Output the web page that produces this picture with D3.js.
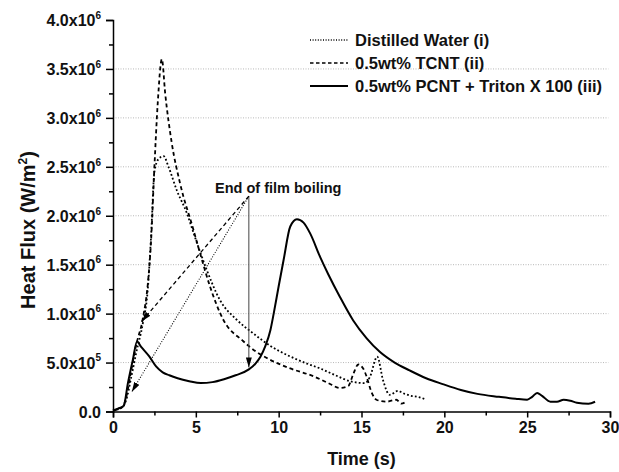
<!DOCTYPE html>
<html>
<head>
<meta charset="utf-8">
<script src="https://cdn.jsdelivr.net/npm/d3@7"></script>
<style>
  html, body { margin: 0; padding: 0; background: #fff; }
  svg { display: block; font-family: "Liberation Sans", Arial, sans-serif; }
</style>
</head>
<body>
<svg id="chart" width="619" height="472"></svg>
<script>
// ---------- data ----------
const seriesNames = ["Distilled Water (i)", "0.5wt% TCNT (ii)", "0.5wt% PCNT + Triton X 100 (iii)"];

const timeWater = [0, 0.6, 0.8, 1.1, 1.4, 1.8, 2.1, 2.3, 2.5, 2.75, 3.05, 3.35, 3.85, 4.45, 4.95, 5.65, 6.45, 7.45, 8.45, 9.5, 10.6, 11.7, 12.5, 13.3, 14.3, 15.2, 15.5, 15.95, 16.3, 16.7, 17.2, 17.6, 18.0, 18.4, 18.85];
const fluxWater = [0.01, 0.05, 0.12, 0.35, 0.6, 0.9, 1.25, 1.8, 2.45, 2.58, 2.61, 2.5, 2.26, 2.03, 1.78, 1.45, 1.14, 0.94, 0.80, 0.67, 0.57, 0.49, 0.44, 0.38, 0.31, 0.29, 0.35, 0.56, 0.32, 0.17, 0.21, 0.18, 0.16, 0.15, 0.125];

const timeTCNT = [0, 0.6, 0.8, 1.1, 1.4, 1.8, 2.1, 2.3, 2.5, 2.7, 2.95, 3.15, 3.55, 4.05, 4.85, 5.25, 5.85, 6.65, 7.85, 8.65, 9.3, 10.7, 12.1, 13.0, 13.7, 14.2, 14.5, 14.8, 15.1, 15.3, 15.6, 15.9, 16.5, 17.1, 17.4, 17.7];
const fluxTCNT = [0.01, 0.05, 0.15, 0.42, 0.68, 0.95, 1.3, 1.75, 2.5, 3.15, 3.60, 3.25, 2.74, 2.33, 1.86, 1.62, 1.28, 0.94, 0.72, 0.61, 0.545, 0.44, 0.36, 0.29, 0.24, 0.26, 0.38, 0.48, 0.44, 0.36, 0.2, 0.12, 0.10, 0.12, 0.08, 0.10];

const timePCNT = [0, 0.3, 0.65, 0.9, 1.2, 1.45, 1.7, 2.2, 2.6, 3.0, 3.4, 3.9, 4.6, 5.3, 6.0, 6.7, 7.4, 8.2, 8.6, 8.9, 9.2, 9.5, 9.7, 10.0, 10.3, 10.7, 11.1, 11.5, 11.9, 12.5, 13.0, 13.7, 14.5, 15.3, 16.1, 17.0, 17.9, 18.9, 19.9, 21.0, 22.0, 23.3, 24.3, 25.0, 25.3, 25.6, 25.9, 26.4, 26.8, 27.2, 27.6, 28.0, 28.7, 29.1];
const fluxPCNT = [0.01, 0.03, 0.06, 0.29, 0.53, 0.715, 0.66, 0.56, 0.46, 0.40, 0.37, 0.34, 0.31, 0.29, 0.30, 0.33, 0.37, 0.43, 0.49, 0.56, 0.67, 0.83, 1.0, 1.28, 1.55, 1.89, 1.965, 1.93, 1.82, 1.58, 1.40, 1.17, 0.93, 0.75, 0.61, 0.50, 0.42, 0.34, 0.28, 0.22, 0.18, 0.15, 0.13, 0.12, 0.15, 0.19, 0.16, 0.10, 0.10, 0.12, 0.11, 0.09, 0.08, 0.10];

// annotation: end of film boiling (time, flux in 1e6 W/m2)
const annotText = "End of film boiling";
const annotApex = [8.2, 2.2];
const annotTargets = [[8.2, 0.45], [1.13, 0.2], [1.73, 0.92]];

// ticks
const xTicks = [0, 5, 10, 15, 20, 25, 30];
const xMinorTicks = [2.5, 7.5, 12.5, 17.5, 22.5, 27.5];
const yTicks = [0, 0.5e6, 1.0e6, 1.5e6, 2.0e6, 2.5e6, 3.0e6, 3.5e6, 4.0e6];
const yTickMantissa = ["0.0", "5.0x10", "1.0x10", "1.5x10", "2.0x10", "2.5x10", "3.0x10", "3.5x10", "4.0x10"];
const yTickExponent = ["", "5", "6", "6", "6", "6", "6", "6", "6"];
const yMinorTicks = [0.25e6, 0.75e6, 1.25e6, 1.75e6, 2.25e6, 2.75e6, 3.25e6, 3.75e6];
const yGridTicks = [0.5e6, 1.0e6, 1.5e6, 2.0e6, 2.5e6, 3.0e6, 3.5e6];

// ---------- drawing ----------
const svg = d3.select("#chart");
const x = d3.scaleLinear().domain([0, 30]).range([113, 610]);
const y = d3.scaleLinear().domain([0, 4e6]).range([411.5, 20]);

// grid
svg.append("g").selectAll("line").data(yGridTicks).join("line")
  .attr("x1", x(0)).attr("x2", x(29.9))
  .attr("y1", d => y(d)).attr("y2", d => y(d))
  .attr("stroke", "#b8b8b8").attr("stroke-width", 1)
  .attr("stroke-dasharray", "1,1.5");

// axes
const xAxis = svg.append("g").attr("transform", `translate(0,${y(0)})`)
  .call(d3.axisBottom(x).tickValues(xTicks).tickSize(6).tickPadding(4).tickFormat(d3.format("d")));
svg.append("g").attr("transform", `translate(0,${y(0)})`)
  .call(d3.axisBottom(x).tickValues(xMinorTicks).tickSize(4).tickFormat(""))
  .select(".domain").remove();
xAxis.selectAll("text").attr("font-size", 16).attr("font-weight", "bold").attr("fill", "#111");

const yAxis = svg.append("g").attr("transform", `translate(${x(0)},0)`)
  .call(d3.axisLeft(y).tickValues(yTicks).tickSize(7).tickPadding(5).tickFormat(""));
svg.append("g").attr("transform", `translate(${x(0)},0)`)
  .call(d3.axisLeft(y).tickValues(yMinorTicks).tickSize(4).tickFormat(""))
  .select(".domain").remove();
yAxis.selectAll(".tick text").each(function(d, i) {
  const t = d3.select(this).text(null)
    .attr("font-size", 16).attr("font-weight", "bold").attr("fill", "#111")
    .attr("dy", "0.36em");
  t.append("tspan").text(yTickMantissa[i]);
  if (yTickExponent[i]) {
    t.append("tspan").attr("font-size", 10).attr("dy", "-0.75em").text(yTickExponent[i]);
  }
});
svg.selectAll(".domain, .tick line").attr("stroke", "#000").attr("stroke-width", 1.5);

// axis titles
svg.append("text").attr("x", x(15)).attr("y", 465)
  .attr("text-anchor", "middle").attr("font-size", 18).attr("font-weight", "bold").attr("fill", "#111")
  .text("Time (s)");
const yTitle = svg.append("text").attr("transform", "translate(35,230) rotate(-90)")
  .attr("text-anchor", "middle").attr("font-size", 20).attr("font-weight", "bold").attr("fill", "#111");
yTitle.append("tspan").text("Heat Flux (W/m");
yTitle.append("tspan").attr("font-size", 12).attr("dy", "-0.7em").text("2");
yTitle.append("tspan").attr("dy", "0.42em").text(")");

// series
const styles = [
  { dash: "1.8,2.2", width: 1.8 },
  { dash: "4,3", width: 1.8 },
  { dash: null, width: 2 }
];
const seriesData = [
  d3.zip(timeWater, fluxWater),
  d3.zip(timeTCNT, fluxTCNT),
  d3.zip(timePCNT, fluxPCNT)
];
const line = d3.line().x(d => x(d[0])).y(d => y(d[1] * 1e6)).curve(d3.curveMonotoneX);
seriesData.forEach((data, i) => {
  svg.append("path").datum(data)
    .attr("d", line)
    .attr("fill", "none").attr("stroke", "#000")
    .attr("stroke-width", styles[i].width)
    .attr("stroke-linejoin", "round")
    .attr("stroke-dasharray", styles[i].dash);
});

// arrow marker
svg.append("defs").append("marker")
  .attr("id", "arrow").attr("viewBox", "0 0 10 6")
  .attr("refX", 10).attr("refY", 3)
  .attr("markerWidth", 10).attr("markerHeight", 6)
  .attr("markerUnits", "userSpaceOnUse")
  .attr("orient", "auto")
  .append("path").attr("d", "M0,0 L10,3 L0,6 Z").attr("fill", "#000");

const annotStyles = [
  { dash: null, width: 1, color: "#444" },
  { dash: "1,1.6", width: 1.1, color: "#000" },
  { dash: "4,3", width: 1.3, color: "#000" }
];
annotTargets.forEach((t, i) => {
  svg.append("line")
    .attr("x1", x(annotApex[0])).attr("y1", y(annotApex[1] * 1e6))
    .attr("x2", x(t[0])).attr("y2", y(t[1] * 1e6))
    .attr("stroke", annotStyles[i].color)
    .attr("stroke-width", annotStyles[i].width)
    .attr("stroke-dasharray", annotStyles[i].dash)
    .attr("marker-end", "url(#arrow)");
});
svg.append("text").attr("x", 215).attr("y", 193)
  .attr("font-size", 14.5).attr("font-weight", "bold").attr("fill", "#111")
  .text(annotText);

// legend
const legend = svg.append("g");
seriesNames.forEach((name, i) => {
  const yy = 40 + i * 23;
  legend.append("line")
    .attr("x1", 310).attr("x2", 348).attr("y1", yy).attr("y2", yy)
    .attr("stroke", "#000").attr("stroke-width", i === 2 ? 2 : 1.5)
    .attr("stroke-dasharray", i === 0 ? "1,1.6" : i === 1 ? "3.5,2.5" : null);
  legend.append("text").attr("x", 355).attr("y", yy + 6)
    .attr("font-size", 16.5).attr("font-weight", "bold").attr("fill", "#111")
    .text(name);
});
</script>
</body>
</html>
